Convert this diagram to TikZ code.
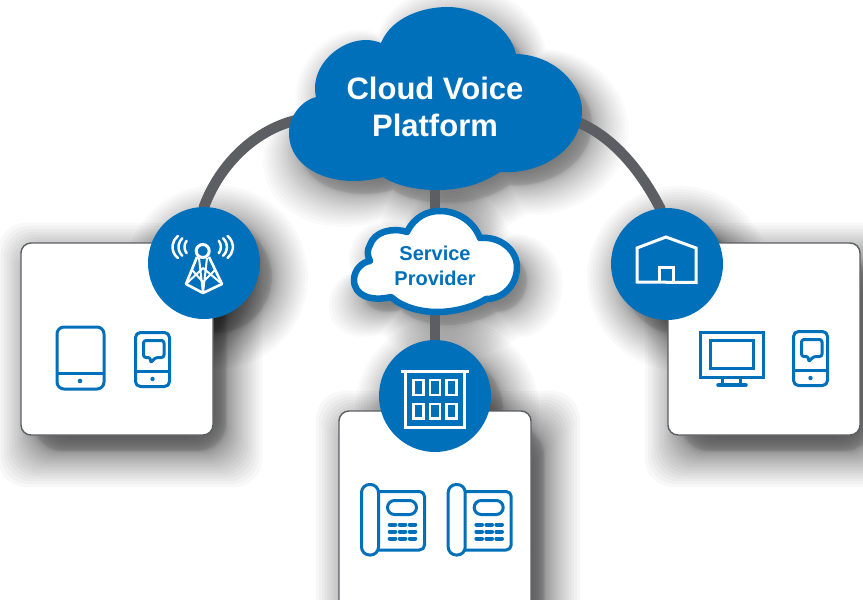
\documentclass[tikz,border=0pt]{standalone}
\usepackage{fontspec}
\setmainfont{Liberation Sans}
\definecolor{cblue}{HTML}{0070BB}
\definecolor{cgray}{HTML}{5B5E63}
\pgfdeclarelayer{low}
\pgfsetlayers{low,main}
% #1,#2 centre; #3,#4 half sizes; #5,#6 offset; #7 opacity of a layer; #8 path
\newcommand{\softshadow}[8]{%
  \foreach \u in {-1,-.95,...,1.01}{%
    \pgfmathsetmacro{\k}{36*(\u<0?-1:1)*pow(abs(\u)+0.001,1.7)}%
    \pgfmathsetmacro{\fx}{1+\k/#3}%
    \pgfmathsetmacro{\fy}{1+\k/#4}%
    \begin{scope}[shift={(#1+#5,#2+#6)},xscale=\fx,yscale=\fy,shift={(-#1,-#2)}]
      \fill[black,opacity=#7] #8;
    \end{scope}}}
\newcommand{\bigcloudpath}{(316,97) .. controls (308,62) and (350,30) .. (381,43) .. controls (392,16) and (425,7) .. (447,7) .. controls (480,7) and (510,28) .. (516,54) .. controls (555,55) and (582,85) .. (582,110) .. controls (582,150) and (540,175) .. (500,172) .. controls (480,185) and (460,190) .. (437,190) .. controls (415,190) and (395,185) .. (383,177) .. controls (335,190) and (289,170) .. (289,133) .. controls (289,115) and (303,100) .. (316,97) -- cycle}
\newcommand{\smallcloudpath}{(370,245) .. controls (374,232) and (392,227) .. (407,232) .. controls (415,216) and (428,211) .. (440,211) .. controls (458,211) and (474,222) .. (480,238) .. controls (500,236) and (517,250) .. (517,267) .. controls (517,285) and (503,299) .. (486,299) .. controls (472,308) and (452,312) .. (437,312) .. controls (420,312) and (402,307) .. (391,297) .. controls (370,302) and (354,295) .. (354,280) .. controls (354,270) and (362,262) .. (370,261) .. controls (367,255) and (367,250) .. (370,245) -- cycle}
\tikzset{
  boxbg/.style={draw=cgray,line width=1.4pt,fill=white,rounded corners=10pt},
  hub/.style={circle,fill=cblue,minimum size=112pt,inner sep=0pt},
  link/.style={draw=cgray,line width=10.5pt},
  ico/.style={draw=cblue,line width=3pt,line join=round,rounded corners=5pt},
  icos/.style={draw=cblue,line width=3pt,line join=miter},
  wht/.style={draw=white,line width=3pt,line join=round},
  dotb/.style={fill=cblue},
  keyp/.style={draw=cblue,line width=4pt,line cap=round},
  bigtxt/.style={inner sep=0pt,align=center,text=white,font=\bfseries\fontsize{31}{37}\selectfont},
  smalltxt/.style={inner sep=0pt,align=center,text=cblue,font=\bfseries\fontsize{20}{25}\selectfont}
}
\newcommand{\smartphone}[2]{%
  \begin{scope}[shift={(#1,#2)}]
    \draw[ico] (0,0) rectangle (34,54);
    \draw[icos] (0,39) -- (34,39);
    \fill[dotb] (17,46.5) circle (2.2);
    \draw[ico,rounded corners=2.5pt] (8,8) -- (28.5,8) -- (28.5,25) -- (20,25) -- (15,30.5) -- (15,25) -- (8,25) -- cycle;
  \end{scope}}
\newcommand{\deskphone}[2]{%
  \begin{scope}[shift={(#1,#2)}]
    \draw[ico] (17,7) -- (63,7) -- (63,65.5) -- (17,65.5);
    \draw[ico,rounded corners=8pt] (0,0) rectangle (17,70.5);
    \draw[ico,rounded corners=7pt] (26,16) rectangle (55,30);
    \foreach \yy in {40,47,54}{\foreach \xx in {31,41,51}{\draw[keyp] (\xx-2.8,\yy) -- (\xx+2.8,\yy);}}
  \end{scope}}
\begin{document}
\begin{tikzpicture}[x=1pt,y=-1pt]
\useasboundingbox (0,0) rectangle (863,600);
\clip (0,0) rectangle (863,600);
% boxes
\draw[boxbg] (21,243) rectangle (213,435);
\draw[boxbg] (339,411) rectangle (531,640);
\draw[boxbg] (668,243) rectangle (860,435);
% clouds
\fill[cblue] \bigcloudpath;
\draw[draw=cblue,fill=white,line width=6.5pt,line join=round] \smallcloudpath;
% nodes
\node[hub] (hubL) at (204,263) {};
\node[hub] (hubC) at (435,396) {};
\node[hub] (hubR) at (667,264) {};
\node[bigtxt] (cv) at (435,107) {Cloud Voice\\Platform};
\node[smalltxt] (sp) at (435,265.5) {Service\\Provider};
% tower
\draw[wht] (202.7,251) circle (6.5);
\draw[wht,line width=2.6pt] (197,257) -- (186,284) -- (203,293) -- (222,284) -- (209,257);
\draw[wht,line width=2pt] (186,284) -- (203,268) -- (222,284) (199,258) -- (203,293) -- (207,258) (192,270) -- (203,282) -- (215,270);
\foreach \tip/\rr/\aa in {172.5/14/52,178.5/12/47,184.5/10/38}{
  \draw[wht,line width=2.5pt,line cap=round] (\tip+\rr,247) ++(180-\aa:\rr) arc (180-\aa:180+\aa:\rr);
  \draw[wht,line width=2.5pt,line cap=round] (405.4-\tip-\rr,247) ++(-\aa:\rr) arc (-\aa:\aa:\rr);
}
% building
\draw[wht,line join=miter] (401,371) -- (469,371) (405,371) -- (405,427) -- (464,427) -- (464,371);
\foreach \xx in {413.7,430,446.7}{\draw[wht,line width=2.7pt,line join=miter] (\xx,380) rectangle ++(10,15) (\xx,404) rectangle ++(10,14.5);}
% house
\draw[wht,line join=miter] (637,282) -- (637,248) -- (666,237) -- (696,248) -- (696,282.5) -- cycle;
\draw[wht,line join=miter] (659,282) -- (659,267) -- (673,267) -- (673,282);
% icons left
\draw[ico,rounded corners=7pt] (57,327) rectangle (104,389);
\draw[icos] (57,373) -- (104,373);
\fill[dotb] (80,381) circle (2.3);
\smartphone{135.5}{332.5}
% icons center
\deskphone{361.5}{484.5}
\deskphone{448.2}{484.5}
% icons right
\draw[icos] (700,332.5) rectangle (763,377);
\draw[icos] (710,340.5) rectangle (753,368);
\draw[icos] (722,377) -- (722,385) (740,377) -- (740,385);
\draw[draw=cblue,line width=3.4pt,line cap=round] (718,385) -- (746,385);
\smartphone{793.5}{331.5}
% everything that lies beneath
\begin{pgfonlayer}{low}
\clip (0,0) rectangle (863,600);
\fill[white] (0,0) rectangle (863,600);
\softshadow{117}{339}{96}{96}{13}{16}{.027}{[rounded corners=28pt] (21,243) rectangle (213,435)}
\softshadow{435}{525}{96}{114}{13}{16}{.027}{[rounded corners=28pt] (339,411) rectangle (531,640)}
\softshadow{764}{339}{96}{96}{13}{16}{.027}{[rounded corners=28pt] (668,243) rectangle (860,435)}
\softshadow{204}{263}{56}{56}{12}{14}{.022}{(204,263) circle (56)}
\softshadow{435}{396}{56}{56}{12}{14}{.022}{(435,396) circle (56)}
\softshadow{667}{264}{56}{56}{12}{14}{.022}{(667,264) circle (56)}
\softshadow{435}{98}{146}{91}{10}{13}{.018}{\bigcloudpath}
\softshadow{435}{262}{83}{52}{10}{13}{.018}{\smallcloudpath}
\draw[link] (cv.center) -- (310,118) .. controls (265,122) and (222,158) .. (hubL.north) -- (hubL.center);
\draw[link] (cv.center) -- (565,118) .. controls (605,128) and (638,165) .. (hubR.97) -- (hubR.center);
\draw[link] (cv.center) -- (hubC.center);
\end{pgfonlayer}
\end{tikzpicture}
\end{document}
